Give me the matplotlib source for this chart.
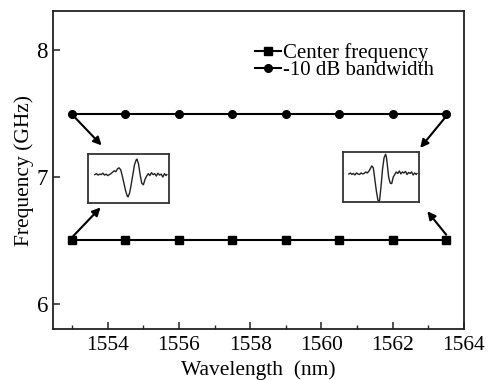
import matplotlib
matplotlib.use("Agg")
import matplotlib.pyplot as plt
from matplotlib.ticker import MultipleLocator

plt.rcParams['font.family'] = ['Liberation Serif', 'DejaVu Serif']

wavelength = [1553.0, 1554.5, 1556.0, 1557.5, 1559.0, 1560.5, 1562.0, 1563.5]
center_freq = [6.5, 6.5, 6.5, 6.5, 6.5, 6.5, 6.5, 6.5]
bandwidth = [7.5, 7.5, 7.5, 7.5, 7.5, 7.5, 7.5, 7.5]

# inset waveforms (normalised inset coordinates)
left_wave_x = [0.08, 0.10, 0.12, 0.14, 0.16, 0.18, 0.20, 0.22, 0.24, 0.26, 0.28, 0.30,
               0.32, 0.34, 0.36, 0.38, 0.40, 0.42, 0.44, 0.46, 0.48, 0.49, 0.51, 0.53,
               0.55, 0.57, 0.59, 0.60, 0.62, 0.64, 0.66, 0.68, 0.70, 0.72, 0.74, 0.76,
               0.78, 0.80, 0.82, 0.84, 0.86, 0.88, 0.90, 0.92, 0.94, 0.96, 0.97]
left_wave_y = [0.58, 0.60, 0.57, 0.59, 0.58, 0.61, 0.57, 0.59, 0.56, 0.58, 0.60, 0.63,
               0.66, 0.64, 0.70, 0.72, 0.68, 0.55, 0.40, 0.25, 0.14, 0.12, 0.20, 0.38,
               0.58, 0.78, 0.88, 0.90, 0.80, 0.58, 0.40, 0.37, 0.48, 0.55, 0.60, 0.56,
               0.62, 0.58, 0.60, 0.55, 0.61, 0.57, 0.59, 0.53, 0.60, 0.56, 0.58]
right_wave_x = [0.08, 0.10, 0.12, 0.14, 0.16, 0.18, 0.20, 0.22, 0.24, 0.26, 0.28, 0.30,
                0.32, 0.34, 0.36, 0.38, 0.40, 0.42, 0.44, 0.46, 0.48, 0.50, 0.52, 0.54,
                0.56, 0.57, 0.58, 0.60, 0.62, 0.64, 0.66, 0.68, 0.70, 0.72, 0.74, 0.76,
                0.78, 0.80, 0.82, 0.84, 0.86, 0.88, 0.90, 0.92, 0.94, 0.96, 0.97]
right_wave_y = [0.56, 0.58, 0.55, 0.57, 0.54, 0.58, 0.56, 0.55, 0.58, 0.56, 0.57, 0.60,
                0.58, 0.61, 0.66, 0.72, 0.68, 0.45, 0.22, 0.04, 0.02, 0.30, 0.65, 0.88,
                0.95, 0.90, 0.78, 0.50, 0.38, 0.37, 0.50, 0.55, 0.60, 0.57, 0.62, 0.56,
                0.60, 0.58, 0.61, 0.55, 0.59, 0.57, 0.60, 0.54, 0.58, 0.55, 0.57]

fig = plt.figure(figsize=(4.89, 3.80), dpi=100)
ax = fig.add_axes([0.1094, 0.134, 0.8395, 0.8368])

ax.plot(wavelength, center_freq, color='black', lw=1.5, marker='s', ms=6,
        label='Center frequency')
ax.plot(wavelength, bandwidth, color='black', lw=1.5, marker='o', ms=5.5,
        label='-10 dB bandwidth')

ax.set_xlim(1552.48, 1564)
ax.set_ylim(5.80, 8.31)
ax.xaxis.set_major_locator(MultipleLocator(2))
ax.xaxis.set_minor_locator(MultipleLocator(1))
ax.yaxis.set_major_locator(MultipleLocator(1))
ax.tick_params(which='both', direction='in', color='#222222')
ax.tick_params(axis='x', labelsize=15.5, pad=5)
ax.tick_params(axis='y', labelsize=16.5, pad=4)
ax.tick_params(which='major', length=5, width=1.1)
ax.tick_params(which='minor', length=3, width=1.0)
for s in ax.spines.values():
    s.set_linewidth(1.3)
    s.set_color('#222222')
ax.set_xlabel('Wavelength  (nm)', fontsize=15.5, labelpad=4)
ax.set_ylabel('Frequency (GHz)', fontsize=15.5, labelpad=2)

leg = ax.legend(loc='upper left', bbox_to_anchor=(0.471, 0.926), frameon=False,
                fontsize=15, handlelength=1.25, handletextpad=0.1,
                labelspacing=-0.1, borderaxespad=0)

arrow_kw = dict(arrowstyle='-|>', color='black', lw=1.5, mutation_scale=12,
                shrinkA=0, shrinkB=0)
ax.annotate('', xy=(1553.83, 7.25), xytext=(1553.05, 7.48), arrowprops=arrow_kw)
ax.annotate('', xy=(1553.80, 6.76), xytext=(1553.02, 6.53), arrowprops=arrow_kw)
ax.annotate('', xy=(1562.77, 7.23), xytext=(1563.50, 7.48), arrowprops=arrow_kw)
ax.annotate('', xy=(1562.97, 6.73), xytext=(1563.50, 6.545), arrowprops=arrow_kw)

for pos, wx, wy in [([0.1806, 0.4666, 0.1656, 0.1274], left_wave_x, left_wave_y),
                    ([0.7008, 0.4676, 0.1566, 0.1332], right_wave_x, right_wave_y)]:
    ia = fig.add_axes(pos)
    ia.plot(wx, wy, color='#222222', lw=1.0)
    ia.set_xlim(0, 1)
    ia.set_ylim(0, 1)
    ia.set_xticks([])
    ia.set_yticks([])
    for s in ia.spines.values():
        s.set_linewidth(1.3)
        s.set_color('#333333')

fig.savefig('out.png', dpi=100)
